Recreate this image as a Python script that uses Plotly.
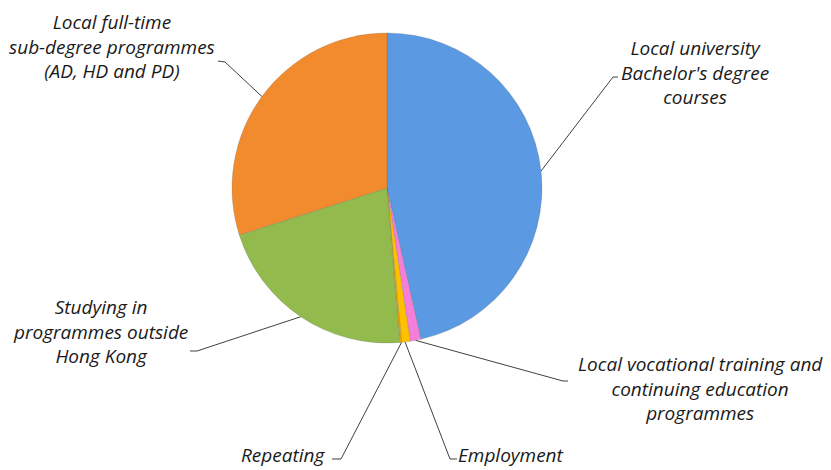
import math
import plotly.graph_objects as go

W, H = 831, 470

categories = [
    "Local university Bachelor's degree courses",
    "Local vocational training and continuing education programmes",
    "Employment",
    "Repeating",
    "Studying in programmes outside Hong Kong",
    "Local full-time sub-degree programmes (AD, HD and PD)",
]
values = [46.5, 1.1, 0.9, 0.2, 21.4, 29.9]
colors = ["#5B9AE3", "#F57FD8", "#FFC000", "#E0A800", "#93BA4C", "#F28A2E"]

label_texts = [
    "Local university<br>Bachelor's degree<br>courses",
    "Local vocational training and<br>continuing education<br>programmes",
    "Employment",
    "Repeating",
    "Studying in<br>programmes outside<br>Hong Kong",
    "Local full-time<br>sub-degree programmes<br>(AD, HD and PD)",
]
# label centres (pixels) and leader-line label ends / elbows (pixels)
label_pos = [(695, 72), (700, 388), (511, 455), (283, 455), (100, 331), (112, 46)]
leader_tick = [((618, 77), (613, 77)), ((568, 381), (563, 381)), ((457, 459), (450, 459)),
               ((332, 459), (341, 459)), ((190, 351), (197, 351)), ((218, 61), (225, 62))]

# pie geometry (pixels)
cx, cy, R = 387, 188, 155

fig = go.Figure()
fig.add_trace(go.Pie(
    labels=categories, values=values, sort=False, direction="clockwise", rotation=0,
    marker=dict(colors=colors, line=dict(color="rgba(90,90,90,0.35)", width=0.6)),
    textinfo="none", hoverinfo="label+percent", showlegend=False,
    domain=dict(x=[(cx - R) / W, (cx + R) / W], y=[(H - cy - R) / H, (H - cy + R) / H]),
))

total = sum(values)
cum = 0.0
for i, v in enumerate(values):
    start = cum / total * 360
    cum += v
    end = cum / total * 360
    if categories[i] == "Repeating":
        mid = start
    elif categories[i] == "Employment":
        mid = start + (end - start) * 0.6
    else:
        mid = (start + end) / 2
    a = math.radians(mid)
    ex, ey = cx + R * math.sin(a), cy - R * math.cos(a)
    (tx, ty), (bx, by) = leader_tick[i]
    fig.add_trace(go.Scatter(
        x=[tx, bx, ex], y=[ty, by, ey], mode="lines",
        line=dict(color="#404040", width=1), hoverinfo="skip", showlegend=False,
        xaxis="x", yaxis="y",
    ))
    lx, ly = label_pos[i]
    fig.add_annotation(
        x=lx, y=ly, xref="x", yref="y", text="<i>" + label_texts[i] + "</i>",
        showarrow=False, align="center", xanchor="center", yanchor="middle",
        font=dict(family="Open Sans, Lato, sans-serif", size=19, color="#1a1a1a"),
    )

fig.update_layout(
    width=W, height=H, margin=dict(l=0, r=0, t=0, b=0),
    paper_bgcolor="white", plot_bgcolor="rgba(0,0,0,0)",
    xaxis=dict(range=[0, W], visible=False, fixedrange=True, domain=[0, 1]),
    yaxis=dict(range=[H, 0], visible=False, fixedrange=True, domain=[0, 1]),
)

fig.write_html("out.html", config={"displayModeBar": False},
               post_script="document.body.style.margin='0';document.body.style.overflow='hidden';")
